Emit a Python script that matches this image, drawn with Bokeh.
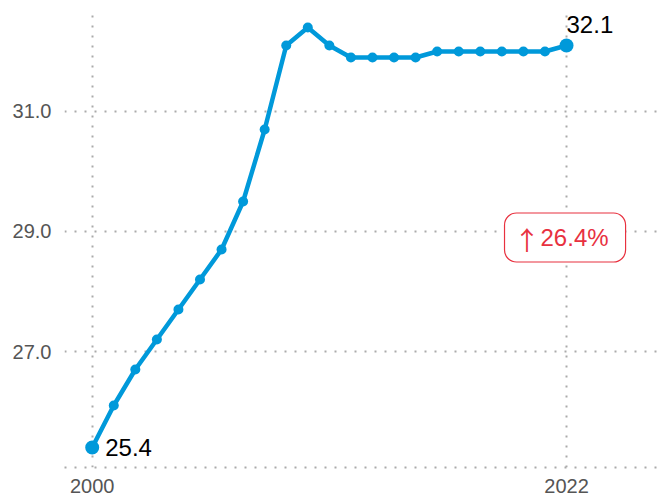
from bokeh.plotting import figure
from bokeh.models import FixedTicker, NumeralTickFormatter, Range1d, Label, ColumnDataSource
from bokeh.core.properties import value
from bokeh.embed import file_html
from bokeh.resources import INLINE

years = list(range(2000, 2023))
values = [25.4, 26.1, 26.7, 27.2, 27.7, 28.2, 28.7, 29.5, 30.7, 32.1, 32.4, 32.1,
          31.9, 31.9, 31.9, 31.9, 32.0, 32.0, 32.0, 32.0, 32.0, 32.0, 32.1]
y_ticks = [27.0, 29.0, 31.0]
x_ticks = [2000, 2022]
change_arrow = "↑"
change_pct = "26.4%"

BLUE = "#0099DA"
RED = "#E8313F"
FONT = "Liberation Sans"

p = figure(width=657, height=498, output_backend="svg", toolbar_location=None,
           x_range=Range1d(1998.715, 2026.22), y_range=Range1d(25.067, 32.683),
           min_border_left=64, min_border_right=0, min_border_top=10, min_border_bottom=31)
p.outline_line_color = None
p.background_fill_color = "white"
p.border_fill_color = "white"

src = ColumnDataSource(dict(x=years, y=values))
p.line("x", "y", source=src, line_color=BLUE, line_width=4.5)
p.scatter("x", "y", source=src, size=10, fill_color=BLUE, line_color=None)

ends = ColumnDataSource(dict(x=[years[0], years[-1]], y=[values[0], values[-1]]))
p.scatter("x", "y", source=ends, size=14, fill_color=BLUE, line_color=None)

p.text(x=[years[0]], y=[values[0]], text=[f"{values[0]:.1f}"], x_offset=13, y_offset=0,
       text_align="left", text_baseline="middle", text_font=value(FONT),
       text_font_size="24px", text_color="black")
p.text(x=[years[-1]], y=[values[-1]], text=[f"{values[-1]:.1f}"], x_offset=0, y_offset=-21,
       text_align="left", text_baseline="middle", text_font=value(FONT),
       text_font_size="24px", text_color="black")

# badge: percentage label with rounded red border; arrow drawn on top
badge = Label(x=years[-1], y=28.9, x_offset=-62, text=change_pct, text_align="left",
              text_baseline="middle", text_font=FONT, text_font_size="24px",
              text_color=RED,
              background_fill_color="white", border_line_color=RED, border_line_width=1.2,
              border_radius=12, padding=dict(left=36, right=17, top=11, bottom=11))
p.add_layout(badge)
p.text(x=[years[-1]], y=[28.9], text=[change_arrow], x_offset=-39.5, y_offset=1,
       text_align="center", text_baseline="middle", text_font=value("Noto Sans CJK SC"),
       text_font_size="26px", text_color=RED, level="overlay")

p.xaxis.ticker = FixedTicker(ticks=x_ticks)
p.yaxis.ticker = FixedTicker(ticks=y_ticks)
p.yaxis.formatter = NumeralTickFormatter(format="0.0")
for ax in (p.xaxis, p.yaxis):
    ax.major_tick_line_color = None
    ax.minor_tick_line_color = None
    ax.major_tick_out = 0
    ax.major_tick_in = 0
    ax.major_label_text_font = FONT
    ax.major_label_text_font_size = "20px"
    ax.major_label_text_color = "#555555"
p.yaxis.axis_line_color = None
p.yaxis.major_label_standoff = 13
p.xaxis.major_label_standoff = 11
p.xaxis.axis_line_color = "#aaaaaa"
p.xaxis.axis_line_width = 2
p.xaxis.axis_line_dash = "2 8"

p.grid.grid_line_color = "#aaaaaa"
p.grid.grid_line_width = 2
p.grid.grid_line_dash = "2 8"

open("out.html", "w").write(file_html(p, INLINE))
